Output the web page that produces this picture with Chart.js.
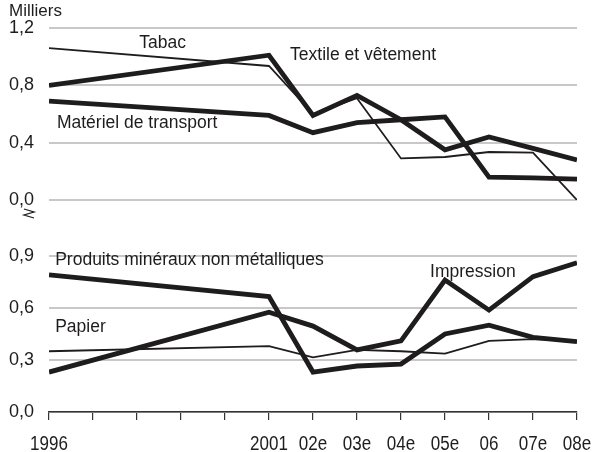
<!DOCTYPE html>
<html>
<head>
<meta charset="utf-8">
<script src="https://cdn.jsdelivr.net/npm/chart.js@4/dist/chart.umd.min.js"></script>
<style>
  html, body { margin: 0; padding: 0; background: #fff; }
  #wrap { position: relative; width: 597px; height: 452px; overflow: hidden; }
  canvas { position: absolute; left: 0; }
</style>
</head>
<body>
<div id="wrap">
  <canvas id="chart-top" width="597" height="230" style="top:0"></canvas>
  <canvas id="chart-bottom" width="597" height="222" style="top:230px"></canvas>
</div>
<script>
const years = [1996, 2001, 2002, 2003, 2004, 2005, 2006, 2007, 2008];
const xLabels = ['1996', '2001', '02e', '03e', '04e', '05e', '06', '07e', '08e'];

// top panel (milliers)
const topTicks = [0, 0.4, 0.8, 1.2];
const tabac = [1.06, 0.935, 0.60, 0.71, 0.29, 0.30, 0.335, 0.33, 0.0];
const textile = [0.80, 1.01, 0.59, 0.73, 0.56, 0.35, 0.44, 0.36, 0.28];
const transport = [0.69, 0.59, 0.47, 0.54, 0.56, 0.58, 0.16, 0.155, 0.145];

// bottom panel
const bottomTicks = [0, 0.3, 0.6, 0.9];
const mineraux = [0.79, 0.665, 0.23, 0.265, 0.276, 0.45, 0.50, 0.43, 0.405];
const impression = [0.23, 0.575, 0.495, 0.358, 0.41, 0.76, 0.587, 0.78, 0.86];
const papier = [0.35, 0.38, 0.315, 0.358, 0.35, 0.336, 0.41, 0.42, 0.41];

// series labels, placed in data units
const topNotes = ['Tabac', 'Textile et vêtement', 'Matériel de transport'];
const topNoteX = [1998.05, 2001.48, 1996.18];
const topNoteY = [1.095, 1.01, 0.537];
const bottomNotes = ['Produits minéraux non métalliques', 'Impression', 'Papier'];
const bottomNoteX = [1996.14, 2004.66, 1996.14];
const bottomNoteY = [0.873, 0.807, 0.488];

const INK = '#1e1c1c';
const GRID = '#c8c8c8';
const FONT = "'Liberation Sans', Arial, sans-serif";

function pts(vals) {
  return vals.map((v, i) => ({ x: years[i], y: v }));
}

function line(vals, thick) {
  return {
    data: pts(vals),
    borderColor: INK,
    borderWidth: thick ? 4.8 : 1.8,
    pointRadius: 0,
    tension: 0,
    borderJoinStyle: 'miter',
    fill: false
  };
}

function fmt(v) {
  return v.toFixed(1).replace('.', ',');
}

function notesPlugin(texts, xs, ys, extra) {
  return {
    id: 'notes',
    afterDatasetsDraw(chart) {
      const ctx = chart.ctx;
      const sx = chart.scales.x, sy = chart.scales.y;
      ctx.save();
      ctx.fillStyle = INK;
      ctx.font = '17.5px ' + FONT;
      ctx.textAlign = 'left';
      ctx.textBaseline = 'middle';
      texts.forEach((t, i) => {
        ctx.fillText(t, sx.getPixelForValue(xs[i]), sy.getPixelForValue(ys[i]));
      });
      if (extra) extra(chart, ctx);
      ctx.restore();
    }
  };
}

// x labels in the source are a tall, condensed face: draw them squeezed
const xLabelPlugin = {
  id: 'xlabels',
  afterDraw(chart) {
    const ctx = chart.ctx;
    const sx = chart.scales.x;
    const base = sx.top + 38;
    ctx.save();
    ctx.fillStyle = INK;
    ctx.font = '20px ' + FONT;
    ctx.textAlign = 'center';
    ctx.textBaseline = 'alphabetic';
    years.forEach((yr, i) => {
      const px = sx.getPixelForValue(yr);
      ctx.save();
      ctx.translate(px, base);
      ctx.scale(0.85, 1);
      ctx.fillText(xLabels[i], 0, 0);
      ctx.restore();
    });
    ctx.restore();
  }
};

function yScale(ticks) {
  return {
    min: ticks[0],
    max: ticks[ticks.length - 1],
    afterBuildTicks: s => { s.ticks = ticks.map(v => ({ value: v })); },
    afterFit: s => { s.width = 49; },
    border: { display: false },
    grid: { color: GRID, lineWidth: 2, drawTicks: false },
    ticks: {
      color: INK,
      padding: 15,
      font: { family: FONT, size: 18 },
      callback: v => fmt(v)
    }
  };
}

const xBase = {
  type: 'linear',
  min: 1996,
  max: 2008
};

new Chart(document.getElementById('chart-top'), {
  type: 'line',
  data: { datasets: [line(tabac, false), line(textile, true), line(transport, true)] },
  options: {
    responsive: false,
    animation: false,
    layout: { padding: { top: 28, right: 20, bottom: 30, left: 0 } },
    plugins: { legend: { display: false }, tooltip: { enabled: false } },
    scales: {
      x: Object.assign({}, xBase, { display: false }),
      y: yScale(topTicks)
    }
  },
  plugins: [notesPlugin(topNotes, topNoteX, topNoteY, (chart, ctx) => {
    const sy = chart.scales.y;
    // unit label
    ctx.font = '17px ' + FONT;
    ctx.fillText('Milliers', 9, sy.getPixelForValue(1.2) - 17);
    // axis break mark under the 0,0
    const y0 = sy.getPixelForValue(0) + 9;
    ctx.strokeStyle = INK;
    ctx.lineWidth = 1.3;
    ctx.beginPath();
    ctx.moveTo(24, y0);
    ctx.lineTo(34, y0 + 3);
    ctx.lineTo(24, y0 + 6);
    ctx.lineTo(34, y0 + 9);
    ctx.stroke();
  })]
});

new Chart(document.getElementById('chart-bottom'), {
  type: 'line',
  data: { datasets: [line(mineraux, true), line(impression, true), line(papier, false)] },
  options: {
    responsive: false,
    animation: false,
    layout: { padding: { top: 18, right: 20, bottom: 0, left: 0 } },
    plugins: { legend: { display: false }, tooltip: { enabled: false } },
    scales: {
      x: Object.assign({}, xBase, {
        afterFit: s => {
          s.height = 40;
          s.paddingLeft = 0;
          s.paddingRight = 0;
        },
        border: { display: true, color: '#333', width: 1.5 },
        grid: { drawOnChartArea: false, drawTicks: true, tickLength: 8, color: '#333', lineWidth: 1.2 },
        ticks: {
          stepSize: 1,
          autoSkip: false,
          maxRotation: 0,
          display: false
        }
      }),
      y: yScale(bottomTicks)
    }
  },
  plugins: [notesPlugin(bottomNotes, bottomNoteX, bottomNoteY), xLabelPlugin]
});
</script>
</body>
</html>
